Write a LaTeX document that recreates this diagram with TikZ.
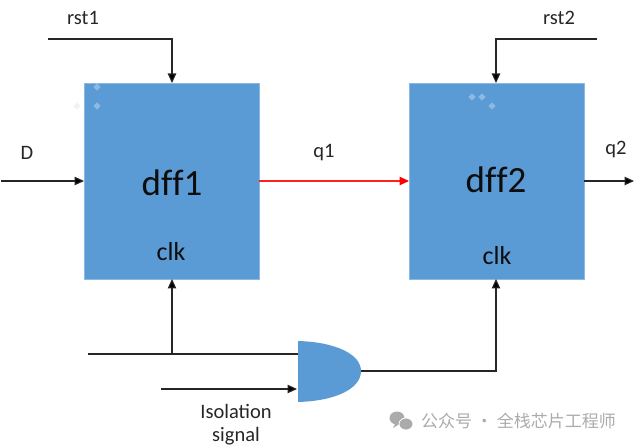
\documentclass[tikz,border=0pt]{standalone}
\usepackage{fontspec}
\setmainfont{Carlito}
\newfontfamily\cjkfam{Noto Sans CJK SC}
\usetikzlibrary{arrows.meta}
\definecolor{boxblue}{HTML}{5B9BD5}
\definecolor{wm}{HTML}{ABABAB}
\definecolor{wirered}{HTML}{FF2020}
\tikzset{
  x=1pt,y=-1pt,
  ffbox/.style={fill=boxblue,draw=boxblue!70!white,line width=0.5pt,minimum width=175pt,minimum height=196pt,inner sep=0pt},
  wire/.style={line width=1.1pt,draw=black!85},
  arr/.style={wire,-{Triangle[length=9.5pt,width=8.5pt,fill=black]}},
  redarr/.style={line width=1.1pt,draw=wirered,-{Triangle[length=9.5pt,width=8.5pt,fill=red,color=red]}},
  lbl/.style={font=\fontsize{20.5}{24}\selectfont,text=black!85,inner sep=0pt},
  big/.style={font=\fontsize{37}{40}\selectfont,text=black!95,inner sep=0pt},
  clk/.style={font=\fontsize{26}{28}\selectfont,text=black!95,inner sep=0pt},
  speck/.style={fill=white,opacity=.3,draw=none,inner sep=0pt,minimum size=5pt,rotate=45}
}
\begin{document}
\begin{tikzpicture}
\useasboundingbox (0,0) rectangle (637,446);
\node[ffbox] (f1) at (171.5,181) {};
\node[ffbox] (f2) at (496.5,181) {};
\node[big] (t1) at (172,183) {df\kern0ptf1};
\node[big] (t2) at (496,180) {df\kern0ptf2};
\node[clk] (c1) at (171,252) {clk};
\node[clk] (c2) at (497,256) {clk};
\node[speck,fill=black,opacity=.05] (s1) at (77,106) {};
\node[speck] (s2) at (97,106) {};
\node[speck] (s3) at (97,87) {};
\node[speck] (s4) at (472,97) {};
\node[speck] (s5) at (482,97) {};
\node[speck] (s6) at (492,106) {};
% AND gate
\coordinate (gtl) at (298,341);
\coordinate (gbl) at (298,402);
\coordinate (gout) at (361,371);
\path[fill=boxblue] (gtl) .. controls (335,342) and (361,354) .. (gout) .. controls (361,389) and (335,401) .. (gbl) -- cycle;
% free ends
\coordinate (r1s) at (48,39);
\coordinate (r1c) at (172,39);
\coordinate (r1e) at (172,83);
\coordinate (r2s) at (597,39);
\coordinate (r2c) at (496,39);
\coordinate (r2e) at (496,83);
\coordinate (ds) at (1,181);
\coordinate (de) at (84,181);
\coordinate (q1s) at (259,181);
\coordinate (q1e) at (409,181);
\coordinate (q2s) at (584,181);
\coordinate (q2e) at (634,181);
\coordinate (cks) at (88,354);
\coordinate (ckj) at (172,354);
\coordinate (cke) at (298,354);
\coordinate (c1e) at (172,279);
\coordinate (iss) at (161,389);
\coordinate (ise) at (297,389);
\coordinate (gc) at (496,371);
\coordinate (c2e) at (496,279);
\draw[arr] (r1s) -- (r1c) -- (r1e);
\draw[arr] (r2s) -- (r2c) -- (r2e);
\draw[arr] (ds) -- (de);
\draw[redarr] (q1s) -- (q1e);
\draw[arr] (q2s) -- (q2e);
\draw[wire] (cks) -- (cke);
\draw[arr] (ckj) -- (c1e);
\draw[arr] (iss) -- (ise);
\draw[arr] (gout) -- (gc) -- (c2e);
\node[lbl] (lr1) at (83,18) {rst1};
\node[lbl] (lr2) at (559,18) {rst2};
\node[lbl] (ld) at (27,153) {D};
\node[lbl] (lq1) at (324,153) {q1};
\node[lbl] (lq2) at (616,150) {q2};
\node[lbl] (liso1) at (236,411) {Isolation};
\node[lbl] (liso2) at (236,436) {signal};
% watermark
\path[fill=wm] (397,418) ellipse [x radius=7.5pt,y radius=6.5pt];
\path[fill=wm] (396,422) -- (393,428) -- (401,423) -- cycle;
\path[draw=white,fill=wm,line width=.8pt] (406,424) ellipse [x radius=7pt,y radius=6pt];
\node[font=\cjkfam\fontsize{17}{20}\selectfont,text=wm,inner sep=0pt,anchor=west] (wmt) at (421,421) {公众号 · 全栈芯片工程师};
\end{tikzpicture}
\end{document}
